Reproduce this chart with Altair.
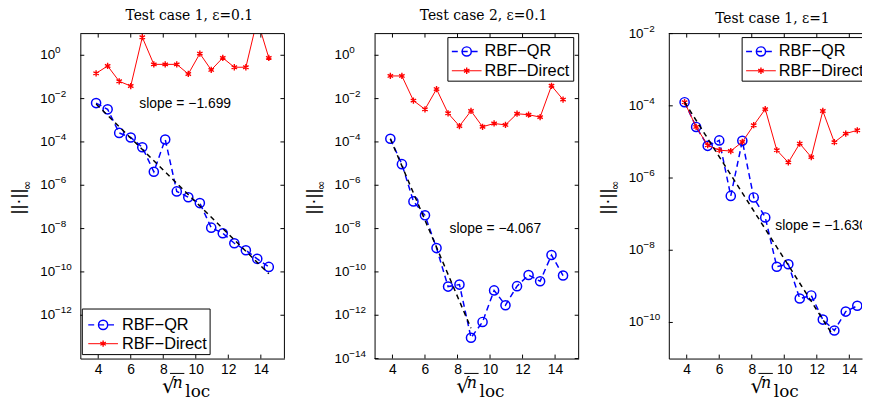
import math
import altair as alt
import pandas as pd

# ---------------- data ----------------
x_vals = [3.87, 4.58, 5.29, 6.00, 6.71, 7.42, 8.12, 8.83, 9.54, 10.25, 10.95, 11.66, 12.37, 13.08, 13.78, 14.49]

titles = ["Test case 1, \u03b5=0.1", "Test case 2, \u03b5=0.1", "Test case 1, \u03b5=1"]
series_names = ["RBF\u2212QR", "RBF\u2212Direct"]

qr_1 = [6.2e-3, 3.2e-3, 2.6e-4, 1.6e-4, 5.7e-5, 4.2e-6, 1.3e-4, 5.2e-7, 2.8e-7, 1.5e-7, 1.1e-8, 6.1e-9, 2.1e-9, 1.0e-9, 4.0e-10, 1.7e-10]
direct_1 = [0.147, 0.32, 0.063, 0.038, 6.8, 0.38, 0.38, 0.38, 0.137, 1.2, 0.21, 0.76, 0.28, 0.28, 45.0, 0.76]

qr_2 = [1.4e-4, 9.4e-6, 1.8e-7, 4.1e-8, 1.26e-9, 2.1e-11, 2.6e-11, 9.1e-14, 4.9e-13, 1.4e-11, 2.9e-12, 2.2e-11, 7.2e-11, 3.7e-11, 6.0e-10, 6.8e-11]
direct_2 = [0.111, 0.111, 8.1e-3, 3.2e-3, 0.0275, 2.1e-3, 5.4e-4, 2.7e-3, 5.0e-4, 7.1e-4, 6.1e-4, 2.0e-3, 1.8e-3, 1.4e-3, 0.039, 9.0e-3]

qr_3 = [1.26e-4, 2.6e-5, 7.8e-6, 1.1e-5, 3.2e-7, 1.07e-5, 2.9e-7, 8.1e-8, 3.5e-9, 4.1e-9, 4.6e-10, 5.6e-10, 1.2e-10, 6.0e-11, 2.0e-10, 2.9e-10]
direct_3 = [1.26e-4, 2.6e-5, 8.1e-6, 5.9e-6, 5.6e-6, 1.0e-5, 2.9e-5, 8.1e-5, 5.9e-6, 2.7e-6, 9.0e-6, 3.8e-6, 7.2e-5, 9.8e-6, 1.7e-5, 2.1e-5]

fit_x_1 = [3.87, 14.49]
fit_y_1 = [5.6e-3, 8.2e-11]
fit_x_2 = [3.87, 8.83]
fit_y_2 = [1.4e-4, 2.5e-13]
fit_x_3 = [3.87, 12.9]
fit_y_3 = [1.26e-4, 5.1e-11]

slope_labels = ["slope = \u22121.699", "slope = \u22124.067", "slope = \u22121.630"]
slope_x = [9.35, 10.33, 9.45]
slope_y = [5.4e-3, 1e-8, 4.8e-8]

x_ticks = [4, 6, 8, 10, 12, 14]
y_ticks_1 = [1e0, 1e-2, 1e-4, 1e-6, 1e-8, 1e-10, 1e-12]
y_ticks_2 = [1e0, 1e-2, 1e-4, 1e-6, 1e-8, 1e-10, 1e-12, 1e-14]
y_ticks_3 = [1e-2, 1e-4, 1e-6, 1e-8, 1e-10]

# ---------------- style ----------------
H = 328
SANS = "Liberation Sans, Arial, DejaVu Sans"
SERIF = "DejaVu Serif, Liberation Serif"
BLUE = "#0000ff"
RED = "#ff0000"
STAR = "M0,-1L0,1M-0.87,-0.5L0.87,0.5M-0.87,0.5L0.87,-0.5"

one = pd.DataFrame({"k": [0]})


def exponent_text(v):
    e = int(round(math.log10(v)))
    return str(e).replace("-", "\u2212")


def make_panel(idx, qr, direct, fit_x, fit_y, yticks, ydomain, xdomain, width, legend, right_edge, title_dy):
    X = alt.X("x:Q", scale=alt.Scale(domain=xdomain, nice=False, zero=False),
              axis=alt.Axis(values=x_ticks, title=None, grid=False, ticks=False, tickSize=0,
                            domainColor="black", domainWidth=1, labelFont=SANS, labelFontSize=14,
                            labelColor="black", labelPadding=4, labelFlush=False))
    Y = alt.Y("y:Q", scale=alt.Scale(type="log", domain=ydomain, nice=False),
              axis=alt.Axis(values=yticks, labels=False, title="||\u00b7||",
                            titleX=-63, titleY=169, titleAngle=270, titleAlign="center",
                            titleBaseline="middle", titleFont=SANS, titleFontSize=19,
                            titleFontWeight="normal", titleColor="black", grid=False, ticks=False,
                            tickSize=0, domainColor="black", domainWidth=1))

    df_qr = pd.DataFrame({"x": x_vals, "y": qr})
    df_d = pd.DataFrame({"x": x_vals, "y": direct})
    df_fit = pd.DataFrame({"x": fit_x, "y": fit_y})
    df_slope = pd.DataFrame({"x": [slope_x[idx]], "y": [slope_y[idx]]})
    df_xt = pd.DataFrame({"x": x_ticks})
    df_yt = pd.DataFrame({"y": yticks, "e": [exponent_text(v) for v in yticks]})

    layers = []
    layers.append(alt.Chart(df_qr).mark_line(color=BLUE, strokeDash=[6, 4], strokeWidth=1.5, clip=True).encode(x=X, y=Y))
    layers.append(alt.Chart(df_qr).mark_point(shape="circle", filled=False, color=BLUE, size=85,
                                              strokeWidth=1.5, opacity=1, clip=True).encode(x=X, y=Y))
    layers.append(alt.Chart(df_d).mark_line(color=RED, strokeWidth=1, clip=True).encode(x=X, y=Y))
    layers.append(alt.Chart(df_d).mark_point(shape=STAR, filled=False, color=RED, size=40,
                                             strokeWidth=1.4, opacity=1, clip=True).encode(x=X, y=Y))
    layers.append(alt.Chart(df_fit).mark_line(color="black", strokeDash=[5, 4], strokeWidth=1.5, clip=True).encode(x=X, y=Y))
    align = "left" if idx == 2 else "center"
    layers.append(alt.Chart(df_slope).mark_text(text=slope_labels[idx], font=SANS, fontSize=14, align=align,
                                                baseline="middle", color="black", clip=True).encode(x=X, y=Y))

    # y tick labels: "10" with a raised exponent
    layers.append(alt.Chart(df_yt).mark_text(text="10", font=SANS, fontSize=13.5, align="left",
                                             baseline="middle", color="black").encode(
        y=Y, x=alt.value(-40.5)))
    layers.append(alt.Chart(df_yt).mark_text(font=SANS, fontSize=10, align="left", baseline="middle",
                                             color="black", dy=-5).encode(
        y=Y, x=alt.value(-25.5), text="e:N"))

    # frame and inward ticks
    layers.append(alt.Chart(one).mark_rule(color="black", strokeWidth=1).encode(
        x=alt.value(0), x2=alt.value(width), y=alt.value(0)))
    layers.append(alt.Chart(df_xt).mark_rule(color="black", strokeWidth=1).encode(
        x=X, y=alt.value(H), y2=alt.value(H - 4)))
    layers.append(alt.Chart(df_xt).mark_rule(color="black", strokeWidth=1).encode(
        x=X, y=alt.value(0), y2=alt.value(4)))
    layers.append(alt.Chart(df_yt).mark_rule(color="black", strokeWidth=1).encode(
        y=Y, x=alt.value(0), x2=alt.value(4)))
    if right_edge:
        layers.append(alt.Chart(one).mark_rule(color="black", strokeWidth=1).encode(
            x=alt.value(width), y=alt.value(0), y2=alt.value(H)))
        layers.append(alt.Chart(df_yt).mark_rule(color="black", strokeWidth=1).encode(
            y=Y, x=alt.value(width), x2=alt.value(width - 4)))

    # legend
    bx0, bx1, by0, by1, lx0, lx1, mx, tx, r1, r2 = legend
    layers.append(alt.Chart(one).mark_rect(fill="white", stroke="black", strokeWidth=1, clip=True).encode(
        x=alt.value(bx0), x2=alt.value(bx1), y=alt.value(by0), y2=alt.value(by1)))
    layers.append(alt.Chart(one).mark_rule(color=BLUE, strokeDash=[6, 4], strokeWidth=1.5, clip=True).encode(
        x=alt.value(lx0), x2=alt.value(lx1), y=alt.value(r1)))
    layers.append(alt.Chart(one).mark_point(shape="circle", filled=False, color=BLUE, size=85, strokeWidth=1.5,
                                            opacity=1, clip=True).encode(x=alt.value(mx), y=alt.value(r1)))
    layers.append(alt.Chart(one).mark_text(text=series_names[0], font=SANS, fontSize=16.5, align="left",
                                           baseline="middle", color="black", clip=True).encode(
        x=alt.value(tx), y=alt.value(r1)))
    layers.append(alt.Chart(one).mark_rule(color=RED, strokeWidth=1, clip=True).encode(
        x=alt.value(lx0), x2=alt.value(lx1), y=alt.value(r2)))
    layers.append(alt.Chart(one).mark_point(shape=STAR, filled=False, color=RED, size=40, strokeWidth=1.4,
                                            opacity=1, clip=True).encode(x=alt.value(mx), y=alt.value(r2)))
    layers.append(alt.Chart(one).mark_text(text=series_names[1], font=SANS, fontSize=16.5, align="left",
                                           baseline="middle", color="black", clip=True).encode(
        x=alt.value(tx), y=alt.value(r2)))

    # x-axis title: sqrt(n_loc)
    layers.append(alt.Chart(one).mark_text(text="\u221a", font="DejaVu Sans", fontSize=21, align="left",
                                           baseline="alphabetic", color="black").encode(
        x=alt.value(82.5), y=alt.value(363)))
    layers.append(alt.Chart(one).mark_rule(color="black", strokeWidth=1).encode(
        x=alt.value(90.5), x2=alt.value(105), y=alt.value(343)))
    layers.append(alt.Chart(one).mark_text(text="n", font=SERIF, fontSize=16, fontStyle="italic", align="left",
                                           baseline="alphabetic", color="black").encode(
        x=alt.value(93), y=alt.value(358)))
    layers.append(alt.Chart(one).mark_text(text="loc", font=SERIF, fontSize=17, align="left",
                                           baseline="alphabetic", color="black").encode(
        x=alt.value(106), y=alt.value(366.5)))
    # subscript infinity of the y title
    layers.append(alt.Chart(one).mark_text(text="\u221e", font="DejaVu Sans", fontSize=12, angle=270,
                                           align="center", baseline="middle", color="black").encode(
        x=alt.value(-54), y=alt.value(153)))

    return alt.layer(*layers).properties(
        width=width, height=H,
        title=alt.TitleParams(titles[idx], font=SERIF, fontSize=14, fontWeight="normal", color="black",
                              anchor="middle", frame="group", offset=10, dx=7, dy=title_dy))


leg_a = (2, 131, 278, 324, 8, 38, 23, 42, 294, 313)
leg_b = (74, 201, 4, 48, 78, 108, 93, 111, 18, 37.5)

p1 = make_panel(0, qr_1, direct_1, fit_x_1, fit_y_1, y_ticks_1, [1e-14, 1e1], [2.9, 15.45], 206, leg_a, True, 0)
p2 = make_panel(1, qr_2, direct_2, fit_x_2, fit_y_2, y_ticks_2, [1e-14, 1e1], [2.9, 15.45], 206, leg_b, True, 0)
p3 = make_panel(2, qr_3, direct_3, fit_x_3, fit_y_3, y_ticks_3, [1e-11, 1e-2], [2.9, 14.78], 195, leg_b, False, 12.5)

chart = alt.hconcat(p1, p2, p3, spacing=91, bounds="flush").properties(
    padding={"left": 1, "top": -1, "right": 0, "bottom": 0}
).configure_view(stroke=None)

chart.save("out.html", embed_options={"renderer": "svg", "actions": False})
